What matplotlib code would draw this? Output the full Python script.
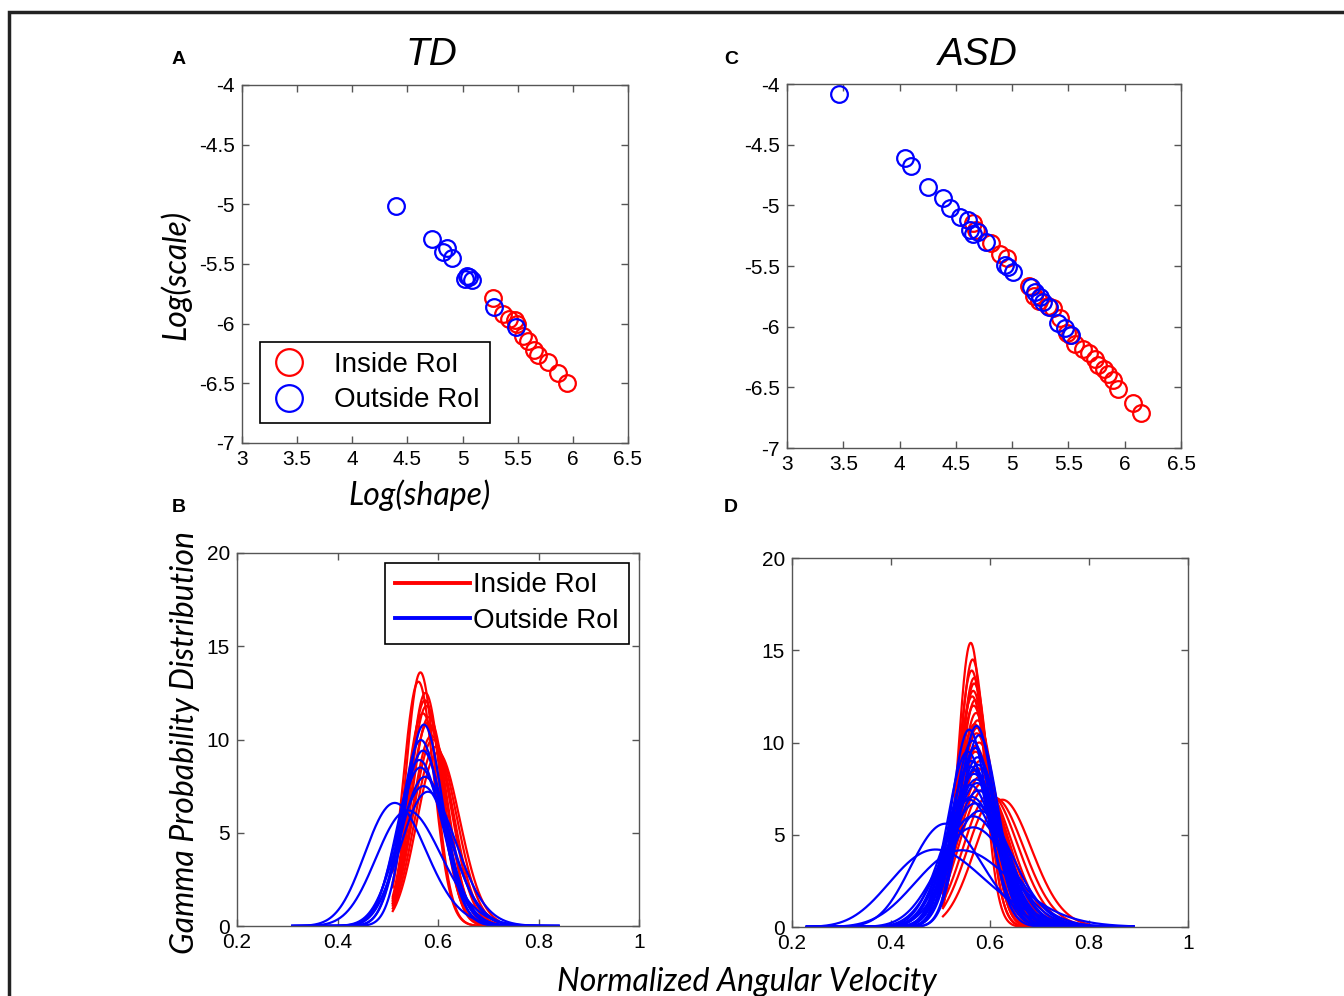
import numpy as np
import matplotlib
matplotlib.use("Agg")
import matplotlib.pyplot as plt
from matplotlib.patches import Rectangle
from math import lgamma

plt.rcParams['font.family'] = ['Liberation Sans', 'DejaVu Sans']

# ---- panel A / C : log(shape) vs log(scale)
td_in_shape = [5.273, 5.364, 5.424, 5.475, 5.496, 5.55, 5.59, 5.65, 5.687, 5.771, 5.862, 5.944]
td_in_scale = [-5.788, -5.922, -5.964, -5.97, -6.006, -6.10, -6.146, -6.22, -6.263, -6.319, -6.417, -6.50]
td_out_shape = [4.393, 4.72, 4.856, 4.825, 4.90, 5.037, 5.058, 5.082, 5.02, 5.287, 5.484]
td_out_scale = [-5.014, -5.29, -5.369, -5.40, -5.45, -5.60, -5.61, -5.635, -5.626, -5.858, -6.03]

asd_in_shape = [4.655, 4.68, 4.81, 4.89, 4.957, 5.15, 5.193, 5.24, 5.316, 5.36, 5.425, 5.485,
                5.51, 5.557, 5.63, 5.686, 5.735, 5.766, 5.815, 5.855, 5.90, 5.944, 6.07, 6.144]
asd_in_scale = [-5.148, -5.20, -5.308, -5.40, -5.43, -5.664, -5.745, -5.786, -5.83, -5.85, -5.932, -6.05,
                -6.07, -6.14, -6.18, -6.22, -6.268, -6.317, -6.345, -6.386, -6.44, -6.51, -6.625, -6.71]
asd_out_shape = [3.462, 4.045, 4.10, 4.25, 4.383, 4.448, 4.536, 4.61, 4.625, 4.649, 4.70, 4.767,
                 4.936, 4.966, 5.01, 5.164, 5.20, 5.247, 5.277, 5.33, 5.41, 5.47, 5.522]
asd_out_scale = [-4.085, -4.613, -4.673, -4.852, -4.943, -5.019, -5.099, -5.12, -5.20, -5.236, -5.217, -5.305,
                 -5.49, -5.51, -5.55, -5.676, -5.717, -5.758, -5.80, -5.84, -5.973, -6.014, -6.07]

# ---- panel B / D : gamma pdf curves, given by mode and peak height
td_in_mode = [0.565, 0.561, 0.574, 0.577, 0.57, 0.58, 0.587, 0.59, 0.595, 0.582, 0.575, 0.60]
td_in_peak = [13.6, 13.1, 12.1, 11.8, 11.4, 10.9, 10.2, 10.0, 9.6, 11.2, 12.5, 9.3]
td_out_mode = [0.572, 0.566, 0.563, 0.565, 0.574, 0.571, 0.514, 0.54, 0.57, 0.58]
td_out_peak = [10.8, 9.97, 8.9, 8.5, 8.0, 7.5, 6.6, 6.2, 9.4, 7.2]

asd_in_mode = [0.561, 0.565, 0.563, 0.568, 0.566, 0.57, 0.572, 0.575, 0.567, 0.569, 0.573, 0.578, 0.571,
               0.58, 0.576, 0.564, 0.574, 0.582, 0.585, 0.59, 0.60, 0.61, 0.625, 0.57, 0.568]
asd_in_peak = [15.4, 14.5, 13.9, 13.2, 12.8, 12.3, 11.6, 11.2, 12.0, 11.0, 10.5, 10.0, 9.5,
               9.0, 8.6, 12.5, 10.8, 8.2, 7.8, 7.5, 7.2, 7.0, 6.9, 9.8, 13.5]
asd_out_mode = [0.573, 0.558, 0.565, 0.57, 0.575, 0.56, 0.568, 0.572, 0.577, 0.563, 0.57, 0.58, 0.566,
                0.566, 0.543, 0.49, 0.51, 0.555, 0.575, 0.56, 0.578, 0.562, 0.569, 0.574, 0.558]
asd_out_peak = [10.9, 10.7, 10.1, 9.7, 9.2, 8.7, 8.3, 8.0, 7.4, 7.05, 6.7, 6.3, 6.0,
                5.4, 4.16, 4.2, 5.6, 9.5, 8.8, 7.7, 10.4, 9.0, 8.5, 7.8, 6.9]

# x range each group was evaluated on
td_in_range = (0.51, 0.72)
td_out_range = (0.31, 0.84)
asd_in_range = (0.505, 0.80)
asd_out_range = (0.23, 0.89)


def gamma_curve(mode, peak, x):
    # shape k such that the pdf at its mode equals peak
    lo, hi = 1.5, 1e6
    for _ in range(100):
        k = np.sqrt(lo * hi)
        f = np.exp(k * np.log(k - 1) - (k - 1) - lgamma(k)) / mode
        if f < peak:
            lo = k
        else:
            hi = k
    theta = mode / (k - 1)
    return np.exp((k - 1) * np.log(x) - x / theta - lgamma(k) - k * np.log(theta))


W, H = 1344, 996
fig = plt.figure(figsize=(W / 100, H / 100), dpi=100)


def add_ax(l, t, r, b):
    return fig.add_axes([l / W, 1 - b / H, (r - l) / W, (b - t) / H])


label_font = dict(family=['Lato', 'DejaVu Sans'], style='italic', fontsize=23)
spine_col = '#555555'


def style(ax):
    for s in ax.spines.values():
        s.set_color(spine_col)
        s.set_linewidth(1.0)
    ax.tick_params(direction='in', top=True, right=True, length=5, width=1,
                   color=spine_col, labelsize=15, pad=5)


axA = add_ax(242, 85, 628, 443)
axC = add_ax(787, 84, 1181, 448)
axB = add_ax(237, 553, 639, 926)
axD = add_ax(792, 558, 1188, 927)

for ax, ish, isc, osh, osc in [(axA, td_in_shape, td_in_scale, td_out_shape, td_out_scale),
                               (axC, asd_in_shape, asd_in_scale, asd_out_shape, asd_out_scale)]:
    ax.plot(ish, isc, 'o', mfc='none', mec='red', ms=12, mew=1.6, label='Inside RoI')
    ax.plot(osh, osc, 'o', mfc='none', mec='blue', ms=12, mew=1.6, label='Outside RoI')
    ax.set_xlim(3, 6.5)
    ax.set_ylim(-7, -4)
    ax.set_xticks(np.arange(3, 6.51, 0.5))
    ax.set_yticks(np.arange(-7, -3.99, 0.5))
    ax.set_xticklabels(['3', '3.5', '4', '4.5', '5', '5.5', '6', '6.5'])
    ax.set_yticklabels(['-7', '-6.5', '-6', '-5.5', '-5', '-4.5', '-4'])
    style(ax)

for ax, groups in [(axB, [(td_in_mode, td_in_peak, td_in_range, 'red'),
                          (td_out_mode, td_out_peak, td_out_range, 'blue')]),
                   (axD, [(asd_in_mode, asd_in_peak, asd_in_range, 'red'),
                          (asd_out_mode, asd_out_peak, asd_out_range, 'blue')])]:
    for modes, peaks, rng, col in groups:
        x = np.linspace(rng[0], rng[1], 400)
        for m, p in zip(modes, peaks):
            ax.plot(x, gamma_curve(m, p, x), color=col, lw=1.6)
    ax.set_xlim(0.2, 1)
    ax.set_ylim(0, 20)
    ax.set_xticks([0.2, 0.4, 0.6, 0.8, 1])
    ax.set_xticklabels(['0.2', '0.4', '0.6', '0.8', '1'])
    ax.set_yticks([0, 5, 10, 15, 20])
    style(ax)

legA = axA.legend(loc='lower left', bbox_to_anchor=(0.047, 0.056), borderaxespad=0,
                  fontsize=20, markerscale=1.6, fancybox=False, framealpha=1,
                  handletextpad=0.9, borderpad=0.35, labelspacing=0.35, handlelength=1.4)
legA.get_frame().set_edgecolor('black')
legA.get_frame().set_linewidth(1.2)

axB.plot([], [], color='red', lw=2.8, label='Inside RoI')
axB.plot([], [], color='blue', lw=2.8, label='Outside RoI')
legB = axB.legend(loc='upper right', bbox_to_anchor=(0.975, 0.974), borderaxespad=0,
                  fontsize=20, fancybox=False, framealpha=1, handlelength=2.7,
                  handletextpad=0.1, borderpad=0.35, labelspacing=0.35)
legB.get_frame().set_edgecolor('black')
legB.get_frame().set_linewidth(1.2)

# titles and labels
fig.text(431 / W, 1 - 65 / H, 'TD', fontsize=28, style='italic', ha='center', va='baseline')
fig.text(978 / W, 1 - 65 / H, 'ASD', fontsize=28, style='italic', ha='center', va='baseline')
fig.text(176 / W, 1 - 275 / H, 'Log(scale)', rotation=90, ha='center', va='center', **label_font)
fig.text(420 / W, 1 - 495 / H, 'Log(shape)', ha='center', va='center', **label_font)
fig.text(185 / W, 1 - 742 / H, 'Gamma Probability Distribution', rotation=90,
         ha='center', va='center', **label_font)
fig.text(747 / W, 1 - 982 / H, 'Normalized Angular Velocity', ha='center', va='center', **label_font)

for letter, px, py in [('A', 179, 60), ('B', 179, 508), ('C', 731, 59), ('D', 731, 508)]:
    fig.text(px / W, 1 - py / H, letter, fontsize=14, fontweight='bold', ha='center', va='center')

# outer frame
fig.patches.append(Rectangle((9 / W, -0.1), 1.1, 1 - 12 / H + 0.1, transform=fig.transFigure,
                             fill=False, edgecolor='#222222', lw=2.5))

fig.savefig('out.png', dpi=100)
